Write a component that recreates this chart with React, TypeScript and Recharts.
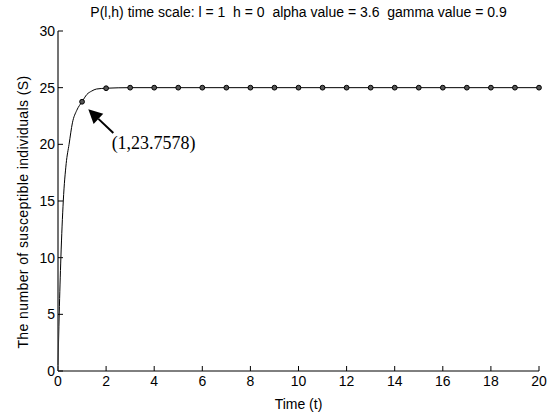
import React from 'react';
import { LineChart, Line, XAxis, YAxis, ReferenceLine, ReferenceDot } from 'recharts';

const timePoints = [0, 0.05, 0.12, 0.22, 0.34, 0.46, 0.6, 0.78, 1, 1.2, 1.4, 1.6, 2, 3, 4, 5, 6, 7, 8, 9, 10, 11, 12, 13, 14, 15, 16, 17, 18, 19, 20];
const susceptible = [0.5, 5, 10, 15, 18.3, 20, 21.9, 23.0, 23.7578, 24.4, 24.7, 24.88, 24.95, 25, 25, 25, 25, 25, 25, 25, 25, 25, 25, 25, 25, 25, 25, 25, 25, 25, 25];
const xTicks = [0, 2, 4, 6, 8, 10, 12, 14, 16, 18, 20];
const yTicks = [0, 5, 10, 15, 20, 25, 30];
const titleText = 'P(l,h) time scale: l = 1  h = 0  alpha value = 3.6  gamma value = 0.9';
const xLabel = 'Time (t)';
const yLabel = 'The number of susceptible individuals (S)';
const annotationText = '(1,23.7578)';
const arrowFrom = { x: 2.3, y: 21.0 };
const arrowTo = { x: 1.26, y: 23.1 };
const annotationPos = { x: 2.23, y: 19.6 };

const data = timePoints.map((t, i) => ({ t, s: susceptible[i] }));

const FONT = '"Liberation Sans", Arial, sans-serif';

const renderDot = (p: any) => {
  const t = p.payload.t;
  if (t >= 1 && Number.isInteger(t)) {
    return <circle key={`d${p.index}`} cx={p.cx} cy={p.cy} r={2.4} fill="#555" stroke="#000" strokeWidth={1} />;
  }
  return <g key={`d${p.index}`} />;
};

const ArrowShape = (p: any) => {
  const { x1, y1, x2, y2 } = p;
  const dx = x2 - x1;
  const dy = y2 - y1;
  const len = Math.sqrt(dx * dx + dy * dy) || 1;
  const ux = dx / len;
  const uy = dy / len;
  const hl = 14;
  const hw = 7;
  const bx = x2 - ux * hl;
  const by = y2 - uy * hl;
  const px = -uy;
  const py = ux;
  return (
    <g>
      <line x1={x1} y1={y1} x2={bx} y2={by} stroke="#000" strokeWidth={2} />
      <polygon
        points={`${x2},${y2} ${bx + px * hw},${by + py * hw} ${bx - px * hw},${by - py * hw}`}
        fill="#000"
      />
    </g>
  );
};

export default function App() {
  return (
    <div style={{ position: 'absolute', left: 0, top: 0, width: 550, height: 412, background: '#fff' }}>
      <div
        style={{
          position: 'absolute',
          left: 58,
          width: 481,
          top: 4,
          textAlign: 'center',
          fontFamily: FONT,
          fontSize: 14,
          whiteSpace: 'pre',
          color: '#000',
        }}
      >
        {titleText}
      </div>
      <LineChart width={550} height={412} data={data} margin={{ top: 31, right: 11, left: 0, bottom: 0 }}>
        <XAxis
          dataKey="t"
          type="number"
          domain={[0, 20]}
          ticks={xTicks}
          height={41}
          tickSize={-5}
          tickMargin={10}
          stroke="#000"
          tick={{ fill: '#000', fontSize: 14, fontFamily: FONT }}
          axisLine={{ stroke: '#000' }}
          tickLine={{ stroke: '#000' }}
          label={{ value: xLabel, position: 'insideBottom', offset: 3, fill: '#000', fontSize: 14, fontFamily: FONT }}
        />
        <YAxis
          type="number"
          domain={[0, 30]}
          ticks={yTicks}
          width={58}
          tickSize={-5}
          tickMargin={8}
          stroke="#000"
          tick={{ fill: '#000', fontSize: 14, fontFamily: FONT }}
          axisLine={{ stroke: '#444', strokeWidth: 1.5 }}
          tickLine={{ stroke: '#000' }}
          label={{
            content: (lp: any) => {
              const vb = lp.viewBox;
              const cx = vb.x + 28;
              const cy = vb.y + vb.height / 2 + 11;
              return (
                <text
                  x={cx}
                  y={cy}
                  transform={`rotate(-90 ${cx} ${cy})`}
                  textAnchor="middle"
                  fill="#000"
                  fontSize={14}
                  letterSpacing={0.4}
                  fontFamily={FONT}
                >
                  {yLabel}
                </text>
              );
            },
          }}
        />
        <Line
          type="monotone"
          dataKey="s"
          stroke="#000"
          strokeWidth={1}
          dot={renderDot}
          activeDot={false}
          isAnimationActive={false}
        />
        <ReferenceLine segment={[arrowFrom, arrowTo]} ifOverflow="visible" shape={ArrowShape} />
        <ReferenceDot
          x={annotationPos.x}
          y={annotationPos.y}
          r={0}
          ifOverflow="visible"
          shape={(p: any) => (
            <text x={p.cx} y={p.cy} fill="#000" fontSize={18} fontFamily='"Liberation Serif", "Times New Roman", serif'>
              {annotationText}
            </text>
          )}
        />
      </LineChart>
    </div>
  );
}
